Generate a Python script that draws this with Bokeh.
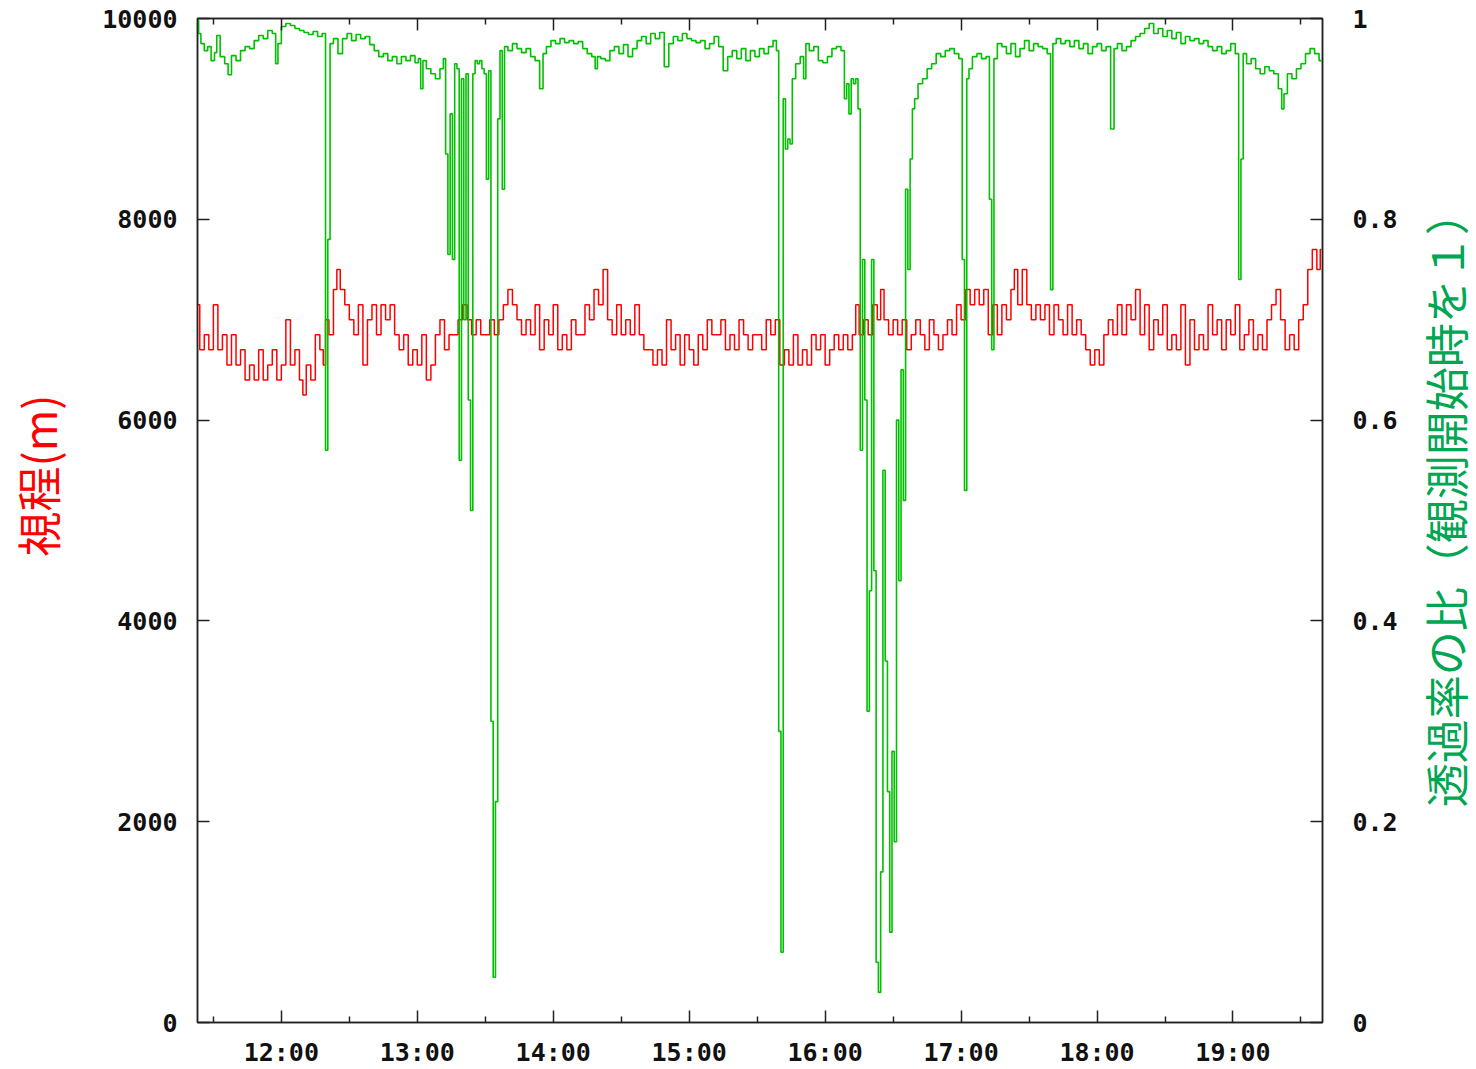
import math
from bokeh.plotting import figure
from bokeh.layouts import row
from bokeh.models import Range1d, LinearAxis, FixedTicker
from bokeh.core.properties import value
from bokeh.embed import file_html
from bokeh.resources import INLINE

# ---------------- data ----------------
red_time = [
    "11:23", "11:25", "11:27", "11:29", "11:31", "11:33", "11:35", "11:37", "11:39", "11:41",
    "11:43", "11:45", "11:47", "11:49", "11:51", "11:53", "11:55", "11:57", "11:59", "12:01",
    "12:03", "12:05", "12:07", "12:09", "12:10", "12:12", "12:14", "12:16", "12:18", "12:19",
    "12:20", "12:22", "12:24", "12:25", "12:27", "12:29", "12:31", "12:33", "12:35", "12:37",
    "12:39", "12:41", "12:43", "12:45", "12:47", "12:49", "12:51", "12:53", "12:55", "12:57",
    "12:59", "13:01", "13:03", "13:05", "13:07", "13:09", "13:11", "13:13", "13:15", "13:17",
    "13:19", "13:21", "13:23", "13:25", "13:27", "13:29", "13:31", "13:33", "13:35", "13:37",
    "13:39", "13:41", "13:43", "13:45", "13:47", "13:49", "13:51", "13:53", "13:55", "13:57",
    "13:59", "14:01", "14:03", "14:05", "14:07", "14:09", "14:11", "14:13", "14:15", "14:17",
    "14:19", "14:21", "14:23", "14:25", "14:27", "14:29", "14:31", "14:33", "14:35", "14:37",
    "14:39", "14:41", "14:43", "14:45", "14:47", "14:49", "14:51", "14:53", "14:55", "14:57",
    "14:59", "15:01", "15:03", "15:05", "15:07", "15:09", "15:11", "15:13", "15:15", "15:17",
    "15:19", "15:21", "15:23", "15:25", "15:27", "15:29", "15:31", "15:33", "15:35", "15:37",
    "15:39", "15:41", "15:43", "15:45", "15:47", "15:49", "15:51", "15:53", "15:55", "15:57",
    "15:59", "16:01", "16:03", "16:05", "16:07", "16:09", "16:11", "16:13", "16:14", "16:16",
    "16:18", "16:20", "16:22", "16:24", "16:25", "16:27", "16:29", "16:31", "16:33", "16:35",
    "16:37", "16:39", "16:41", "16:43", "16:45", "16:47", "16:49", "16:51", "16:53", "16:55",
    "16:57", "16:59", "17:01", "17:03", "17:05", "17:07", "17:09", "17:11", "17:13", "17:15",
    "17:17", "17:19", "17:21", "17:23", "17:24", "17:26", "17:28", "17:30", "17:32", "17:34",
    "17:36", "17:38", "17:40", "17:42", "17:44", "17:46", "17:48", "17:50", "17:52", "17:54",
    "17:56", "17:58", "18:00", "18:02", "18:04", "18:06", "18:08", "18:10", "18:12", "18:14",
    "18:16", "18:18", "18:20", "18:22", "18:24", "18:26", "18:28", "18:30", "18:32", "18:34",
    "18:36", "18:38", "18:40", "18:42", "18:44", "18:46", "18:48", "18:50", "18:52", "18:54",
    "18:56", "18:58", "19:00", "19:02", "19:04", "19:06", "19:08", "19:10", "19:12", "19:14",
    "19:16", "19:18", "19:20", "19:22", "19:24", "19:26", "19:28", "19:30", "19:32", "19:34",
    "19:36", "19:38", "19:39",
]
red_vis = [
    7150, 6700, 6850, 6700, 7150, 6700, 6850, 6550, 6850, 6550,
    6700, 6400, 6550, 6400, 6700, 6400, 6550, 6700, 6400, 6550,
    7000, 6550, 6700, 6400, 6250, 6550, 6400, 6850, 6700, 6550,
    7000, 6850, 7300, 7500, 7300, 7150, 7000, 6850, 7150, 6550,
    7000, 7150, 6850, 7150, 7000, 7150, 6850, 6700, 6850, 6550,
    6700, 6550, 6850, 6400, 6550, 6850, 7000, 6700, 6850, 6850,
    7000, 7150, 7000, 6850, 7000, 6850, 6850, 7000, 6850, 7000,
    7150, 7300, 7150, 7000, 6850, 7000, 6850, 7150, 6700, 7000,
    6850, 7150, 6700, 6850, 6700, 7000, 6850, 6850, 7150, 7000,
    7300, 7150, 7500, 7000, 6850, 7150, 6850, 7000, 6850, 7150,
    6850, 6700, 6700, 6550, 6700, 6550, 7000, 6700, 6850, 6550,
    6850, 6700, 6550, 6850, 6700, 7000, 6850, 6850, 7000, 6700,
    6850, 6700, 7000, 6850, 6700, 6850, 6850, 6700, 7000, 6850,
    7000, 6550, 6700, 6550, 6850, 6550, 6700, 6550, 6850, 6700,
    6850, 6550, 6700, 6850, 6700, 6850, 6700, 6850, 7150, 6850,
    7000, 6850, 7150, 7000, 7300, 7000, 6850, 7000, 6850, 7000,
    6700, 6850, 7000, 6850, 6700, 7000, 6850, 6700, 6850, 7000,
    6850, 7150, 7000, 7300, 7150, 7300, 7150, 7300, 6850, 7150,
    6850, 7150, 7000, 7300, 7500, 7150, 7500, 7150, 7000, 7150,
    7000, 7150, 6850, 7150, 7000, 6850, 7150, 6850, 7000, 6850,
    6700, 6550, 6700, 6550, 6850, 7000, 6850, 7150, 6850, 7150,
    7000, 7300, 6850, 7150, 6700, 7000, 6850, 7150, 6700, 6850,
    6700, 7150, 6550, 7000, 6700, 6850, 6700, 7150, 6850, 7000,
    6700, 7000, 6850, 7150, 6700, 6850, 7000, 6700, 6850, 6700,
    7000, 7150, 7300, 7000, 6700, 6850, 6700, 7000, 7150, 7500,
    7700, 7500, 7700,
]

green_time = [
    "11:23", "11:24", "11:25", "11:27", "11:28", "11:30", "11:31", "11:32", "11:34", "11:36",
    "11:37", "11:39", "11:41", "11:43", "11:45", "11:47", "11:49", "11:51", "11:53", "11:55",
    "11:57", "11:58", "11:59", "12:01", "12:03", "12:05", "12:07", "12:09", "12:11", "12:13",
    "12:15", "12:17", "12:19", "12:20", "12:21", "12:22", "12:24", "12:26", "12:28", "12:30",
    "12:32", "12:34", "12:36", "12:38", "12:40", "12:42", "12:44", "12:46", "12:48", "12:50",
    "12:52", "12:54", "12:56", "12:58", "13:00", "13:01", "13:02", "13:03", "13:05", "13:07",
    "13:09", "13:11", "13:12", "13:13", "13:14", "13:15", "13:16", "13:17", "13:18", "13:19",
    "13:20", "13:21", "13:22", "13:23", "13:24", "13:25", "13:26", "13:27", "13:28", "13:29",
    "13:30", "13:31", "13:32", "13:33", "13:34", "13:35", "13:36", "13:37", "13:38", "13:39",
    "13:41", "13:43", "13:45", "13:47", "13:49", "13:51", "13:53", "13:55", "13:56", "13:58",
    "14:00", "14:02", "14:04", "14:06", "14:08", "14:10", "14:12", "14:14", "14:16", "14:18",
    "14:19", "14:20", "14:22", "14:24", "14:26", "14:28", "14:30", "14:32", "14:34", "14:36",
    "14:38", "14:40", "14:42", "14:44", "14:46", "14:48", "14:50", "14:52", "14:54", "14:56",
    "14:58", "15:00", "15:02", "15:04", "15:06", "15:08", "15:10", "15:12", "15:14", "15:16",
    "15:18", "15:20", "15:22", "15:24", "15:26", "15:28", "15:30", "15:32", "15:34", "15:36",
    "15:38", "15:39", "15:40", "15:41", "15:42", "15:43", "15:44", "15:45", "15:46", "15:48",
    "15:50", "15:51", "15:52", "15:54", "15:56", "15:58", "16:00", "16:02", "16:04", "16:06",
    "16:08", "16:09", "16:10", "16:11", "16:12", "16:13", "16:14", "16:15", "16:16", "16:17",
    "16:18", "16:19", "16:20", "16:21", "16:22", "16:23", "16:24", "16:25", "16:26", "16:27",
    "16:28", "16:29", "16:30", "16:31", "16:32", "16:33", "16:34", "16:35", "16:36", "16:37",
    "16:38", "16:39", "16:40", "16:42", "16:44", "16:46", "16:48", "16:50", "16:52", "16:54",
    "16:56", "16:58", "17:00", "17:01", "17:02", "17:03", "17:04", "17:06", "17:08", "17:10",
    "17:12", "17:13", "17:14", "17:15", "17:17", "17:19", "17:21", "17:23", "17:25", "17:27",
    "17:29", "17:31", "17:33", "17:35", "17:37", "17:39", "17:40", "17:41", "17:43", "17:45",
    "17:47", "17:49", "17:51", "17:53", "17:55", "17:57", "17:59", "18:01", "18:03", "18:05",
    "18:07", "18:08", "18:10", "18:12", "18:14", "18:16", "18:18", "18:20", "18:22", "18:24",
    "18:26", "18:28", "18:30", "18:32", "18:34", "18:36", "18:38", "18:40", "18:42", "18:44",
    "18:46", "18:48", "18:50", "18:52", "18:54", "18:56", "18:58", "19:00", "19:02", "19:03",
    "19:04", "19:05", "19:07", "19:09", "19:11", "19:13", "19:15", "19:17", "19:19", "19:21",
    "19:22", "19:23", "19:25", "19:27", "19:29", "19:31", "19:33", "19:35", "19:37", "19:39",
]
green_ratio = [
    0.998, 0.985, 0.975, 0.968, 0.972, 0.958, 0.966, 0.983, 0.962, 0.955,
    0.944, 0.963, 0.958, 0.968, 0.972, 0.970, 0.978, 0.983, 0.980, 0.988,
    0.985, 0.955, 0.975, 0.992, 0.995, 0.993, 0.990, 0.988, 0.986, 0.984,
    0.987, 0.982, 0.985, 0.570, 0.780, 0.975, 0.980, 0.965, 0.980, 0.985,
    0.978, 0.984, 0.980, 0.982, 0.974, 0.968, 0.962, 0.965, 0.958, 0.962,
    0.955, 0.962, 0.958, 0.963, 0.956, 0.960, 0.930, 0.958, 0.950, 0.945,
    0.940, 0.950, 0.960, 0.865, 0.765, 0.905, 0.760, 0.955, 0.950, 0.560,
    0.940, 0.700, 0.945, 0.620, 0.510, 0.945, 0.958, 0.955, 0.958, 0.950,
    0.945, 0.840, 0.948, 0.300, 0.045, 0.220, 0.900, 0.968, 0.830, 0.972,
    0.968, 0.975, 0.970, 0.966, 0.970, 0.962, 0.958, 0.930, 0.965, 0.972,
    0.978, 0.975, 0.980, 0.976, 0.978, 0.975, 0.977, 0.970, 0.965, 0.962,
    0.950, 0.962, 0.960, 0.958, 0.968, 0.972, 0.965, 0.974, 0.962, 0.970,
    0.978, 0.982, 0.975, 0.985, 0.980, 0.986, 0.952, 0.975, 0.982, 0.978,
    0.985, 0.980, 0.978, 0.976, 0.978, 0.970, 0.975, 0.982, 0.972, 0.948,
    0.962, 0.968, 0.960, 0.970, 0.958, 0.968, 0.962, 0.970, 0.965, 0.972,
    0.978, 0.968, 0.290, 0.070, 0.920, 0.870, 0.880, 0.875, 0.940, 0.955,
    0.962, 0.940, 0.975, 0.968, 0.972, 0.958, 0.956, 0.962, 0.970, 0.972,
    0.968, 0.920, 0.935, 0.905, 0.940, 0.935, 0.940, 0.910, 0.570, 0.760,
    0.620, 0.310, 0.430, 0.760, 0.450, 0.060, 0.030, 0.150, 0.550, 0.360,
    0.230, 0.090, 0.270, 0.180, 0.600, 0.440, 0.650, 0.520, 0.830, 0.750,
    0.860, 0.910, 0.920, 0.935, 0.940, 0.950, 0.955, 0.965, 0.962, 0.968,
    0.970, 0.965, 0.960, 0.760, 0.530, 0.940, 0.950, 0.962, 0.965, 0.960,
    0.962, 0.820, 0.670, 0.960, 0.975, 0.972, 0.965, 0.975, 0.962, 0.970,
    0.978, 0.968, 0.975, 0.972, 0.970, 0.965, 0.730, 0.975, 0.980, 0.975,
    0.978, 0.972, 0.978, 0.970, 0.975, 0.965, 0.972, 0.975, 0.968, 0.972,
    0.890, 0.970, 0.975, 0.968, 0.972, 0.978, 0.982, 0.985, 0.990, 0.995,
    0.985, 0.990, 0.982, 0.988, 0.980, 0.986, 0.975, 0.982, 0.978, 0.980,
    0.975, 0.978, 0.972, 0.968, 0.972, 0.965, 0.968, 0.975, 0.965, 0.740,
    0.860, 0.965, 0.955, 0.960, 0.950, 0.945, 0.952, 0.948, 0.945, 0.930,
    0.910, 0.925, 0.945, 0.940, 0.950, 0.955, 0.965, 0.970, 0.965, 0.958,
]

x_tick_hours = [12, 13, 14, 15, 16, 17, 18, 19]
x_tick_labels = ["12:00", "13:00", "14:00", "15:00", "16:00", "17:00", "18:00", "19:00"]
x_minor_hours = [11.5, 12.5, 13.5, 14.5, 15.5, 16.5, 17.5, 18.5, 19.5]
vis_ticks = [0, 2000, 4000, 6000, 8000, 10000]
ratio_ticks = [0.0, 0.2, 0.4, 0.6, 0.8, 1.0]
ratio_tick_labels = ["0", "0.2", "0.4", "0.6", "0.8", "1"]
x_start, x_end = "11:23", "19:39.5"
left_title = "\u3000\u3000視程(m)"
right_title = "透過率の比（観測開始時を１）"


def to_hours(s):
    h, m = s.split(":")
    return int(h) + float(m) / 60.0


red_x = [to_hours(t) for t in red_time]
green_x = [to_hours(t) for t in green_time]

TICK_FONT = "DejaVu Sans Mono"
CJK_FONT = "Noto Sans CJK JP"

MAIN_W, SIDE_W, H = 1400, 76, 1069

x0, x1 = to_hours(x_start), to_hours(x_end)
p = figure(
    width=MAIN_W, height=H,
    x_range=Range1d(x0, x1),
    y_range=Range1d(0, 10000),
    output_backend="svg", toolbar_location=None,
    x_axis_location=None, y_axis_location=None,
    min_border_left=197, min_border_right=MAIN_W - 1322, min_border_top=18, min_border_bottom=45,
    background_fill_color="white", border_fill_color="white",
)
p.extra_y_ranges = {"ratio": Range1d(0, 1)}
for g in p.grid:
    g.visible = False
p.outline_line_color = "#222222"
p.outline_line_width = 1.5


def style_common(ax):
    ax.axis_line_color = "#222222"
    ax.axis_line_width = 1.5
    ax.major_tick_line_color = "#222222"
    ax.major_tick_line_width = 1.5
    ax.minor_tick_line_color = "#222222"
    ax.minor_tick_line_width = 1.5
    ax.major_tick_out = 0
    ax.minor_tick_out = 0
    ax.major_tick_in = 12
    ax.minor_tick_in = 6
    ax.major_label_text_font = TICK_FONT
    ax.major_label_text_font_style = "bold"
    ax.major_label_text_font_size = "25px"
    ax.major_label_text_color = "#111111"


xticker = FixedTicker(ticks=x_tick_hours, minor_ticks=x_minor_hours)
bottom = LinearAxis(ticker=xticker,
                    major_label_overrides={h: l for h, l in zip(x_tick_hours, x_tick_labels)})
style_common(bottom)
bottom.major_label_standoff = 15
p.add_layout(bottom, "below")

top = LinearAxis(ticker=xticker)
style_common(top)
top.major_label_text_font_size = "0px"
top.major_label_standoff = 0
top.major_label_text_alpha = 0
p.add_layout(top, "above")

left = LinearAxis(ticker=FixedTicker(ticks=vis_ticks, minor_ticks=[]), axis_label=left_title)
style_common(left)
left.major_label_standoff = 20
left.axis_label_text_font = CJK_FONT
left.axis_label_text_font_size = "45px"
left.axis_label_text_font_style = "normal"
left.axis_label_text_color = "#ff0000"
left.axis_label_standoff = 29
p.add_layout(left, "left")

right = LinearAxis(y_range_name="ratio",
                   ticker=FixedTicker(ticks=ratio_ticks, minor_ticks=[]),
                   major_label_overrides={v: l for v, l in zip(ratio_ticks, ratio_tick_labels)})
style_common(right)
right.major_label_standoff = 30
p.add_layout(right, "right")

p.step(red_x, red_vis, mode="center", line_color="#ff0000", line_width=1.5)
p.step(green_x, green_ratio, mode="center", y_range_name="ratio", line_color="#00c000", line_width=1.6)

# narrow side panel carrying the right-hand axis title (reads bottom to top)
side = figure(
    width=SIDE_W, height=H, x_range=Range1d(0, SIDE_W), y_range=Range1d(0, H),
    output_backend="svg", toolbar_location=None,
    x_axis_location=None, y_axis_location=None,
    min_border_left=0, min_border_right=0, min_border_top=0, min_border_bottom=0,
    background_fill_color="white", border_fill_color="white",
)
side.outline_line_color = None
for g in side.grid:
    g.visible = False
side.text(x=[1444 - MAIN_W], y=[H - 512], text=[right_title], angle=math.pi / 2,
          text_align="center", text_baseline="middle",
          text_font=value(CJK_FONT), text_font_size="44px", text_color="#00a651")

layout = row(p, side, spacing=0)
open("out.html", "w").write(file_html(layout, INLINE))
